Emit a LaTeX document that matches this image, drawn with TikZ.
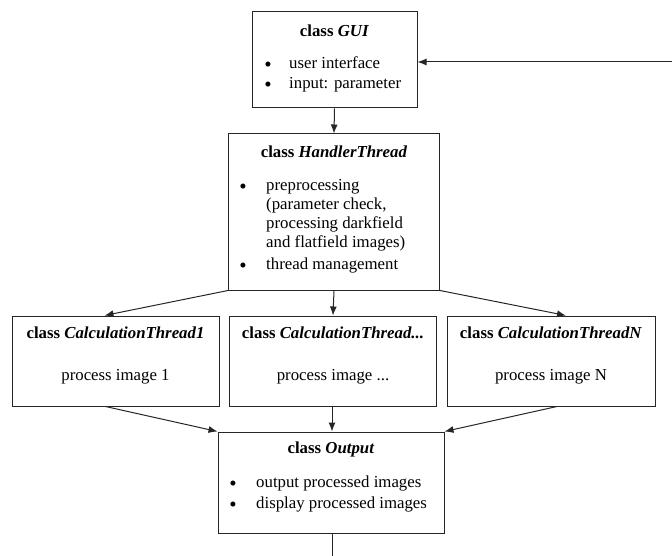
\documentclass[tikz,border=0pt]{standalone}
\usepackage{fontspec}
\setmainfont{Liberation Serif}
\usetikzlibrary{arrows.meta,calc}

\tikzset{
  box/.style={draw=black!85, line width=1pt, fill=white, inner sep=0pt},
  txt/.style={font=\fontsize{16.8}{20}\selectfont, inner sep=0pt, yshift=-3.5pt},
  title/.style={txt, font=\fontsize{16.8}{20}\selectfont\bfseries, anchor=mid},
  item/.style={txt, anchor=mid west},
  plain/.style={txt, anchor=mid},
  dot/.style={txt, font=\fontsize{21}{20}\selectfont, anchor=mid, yshift=-2.5pt},
  link/.style={draw=black!85, line width=1pt, -{Latex[length=9pt,width=7pt]}}
}

\begin{document}
\begin{tikzpicture}[x=1pt,y=-1pt]
\useasboundingbox (0,0) rectangle (672,556);

% --- class boxes ---
\node[box, minimum width=165pt, minimum height=96pt] (gui) at (334.5,60) {};
\node[box, minimum width=211pt, minimum height=156pt] (hand) at (334,212) {};
\node[box, minimum width=207pt, minimum height=90pt] (c1) at (115.5,361) {};
\node[box, minimum width=207pt, minimum height=90pt] (c2) at (333,361) {};
\node[box, minimum width=208pt, minimum height=90pt] (cn) at (551,361) {};
\node[box, minimum width=226pt, minimum height=101pt] (out) at (331,482.5) {};

% --- GUI ---
\node[title] (guit) at (334.5,31) {class \textit{GUI}};
\node[dot] (guib1) at (268,63) {\textbullet};
\node[item] (guii1) at (289,63) {user interface};
\node[dot] (guib2) at (268,83) {\textbullet};
\node[item] (guii2) at (289,83) {input: parameter};

% --- HandlerThread ---
\node[title] (handt) at (334,152) {class \textit{HandlerThread}};
\node[dot] (handb1) at (243,185) {\textbullet};
\node[item] (handi1) at (266,185) {preprocessing};
\node[item] (handi2) at (266,204) {(parameter check,};
\node[item] (handi3) at (266,223) {processing darkfield};
\node[item] (handi4) at (266,242) {and flatfield images)};
\node[dot] (handb2) at (243,264) {\textbullet};
\node[item] (handi5) at (266,264) {thread management};

% --- calculation threads ---
\node[title] (c1t) at (115.5,333) {class \textit{CalculationThread1}};
\node[plain] (c1p) at (115.5,375) {process image 1};
\node[title] (c2t) at (333,333) {class \textit{CalculationThread...}};
\node[plain] (c2p) at (333,375) {process image ...};
\node[title] (cnt) at (551,333) {class \textit{CalculationThreadN}};
\node[plain] (cnp) at (551,375) {process image N};

% --- Output ---
\node[title] (outt) at (331,448) {class \textit{Output}};
\node[dot] (outb1) at (233,482) {\textbullet};
\node[item] (outi1) at (256,482) {output processed images};
\node[dot] (outb2) at (233,503) {\textbullet};
\node[item] (outi2) at (256,503) {display processed images};

% --- connectors ---
\coordinate (feedin) at (672,62);
\coordinate (feedout) at (332,556);
\draw[link] (feedin) -- (feedin -| gui.east);
\draw[link] (gui.south) -- (hand.north);
\draw[link] (hand.south west) -- ($(c1.north)+(-11,0)$);
\draw[link] (hand.south) -- (c2.north);
\draw[link] (hand.south east) -- ($(cn.north)+(15,0)$);
\draw[link] ($(c1.south)+(-10,0)$) -- (out.north west);
\draw[link] ($(c2.south)+(-1,0)$) -- ($(out.north)+(1,0)$);
\draw[link] ($(cn.south)+(6,0)$) -- (out.north east);
\draw[draw=black!85, line width=1pt] (out.south -| feedout) -- (feedout);
\end{tikzpicture}
\end{document}
